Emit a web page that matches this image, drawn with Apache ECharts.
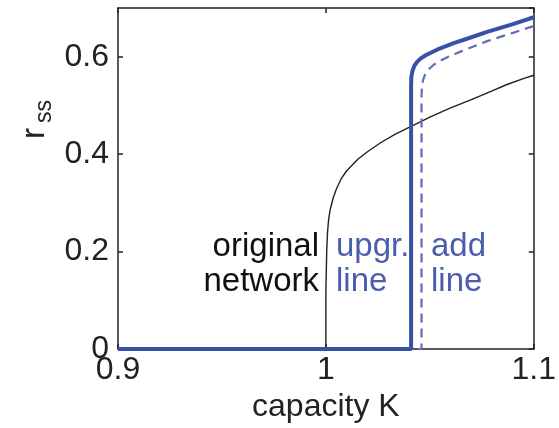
<!DOCTYPE html>
<html>
<head>
<meta charset="utf-8">
<script src="https://cdn.jsdelivr.net/npm/echarts@6/dist/echarts.min.js"></script>
<style>
  html, body { margin: 0; padding: 0; background: #fff; }
  #chart { width: 559px; height: 428px; }
</style>
</head>
<body>
<div id="chart"></div>
<script>
// Steady-state order parameter r_ss versus transmission capacity K
var xTicks = [0.9, 1, 1.1];
var yTicks = [0, 0.2, 0.4, 0.6];

// original network: [K, r_ss]
var originalNetwork = [
  [0.9, 0], [1.0, 0], [1.0, 0.12], [1.0004, 0.2], [1.0008, 0.24], [1.0013, 0.265],
  [1.002, 0.285], [1.0035, 0.31], [1.005, 0.328], [1.0074, 0.35], [1.01, 0.366],
  [1.0155, 0.39], [1.02, 0.405], [1.0265, 0.424], [1.033, 0.44], [1.04, 0.455],
  [1.0457, 0.467], [1.05, 0.476], [1.06, 0.495], [1.07, 0.512], [1.08, 0.53],
  [1.0871, 0.543], [1.095, 0.555], [1.1, 0.562]
];

// upgraded line
var upgradedLine = [
  [0.9, 0], [1.041, 0], [1.041, 0.54], [1.0411, 0.558], [1.0416, 0.57],
  [1.0425, 0.581], [1.0438, 0.589], [1.0455, 0.596], [1.048, 0.603],
  [1.0537, 0.615], [1.0615, 0.628], [1.07, 0.64], [1.0776, 0.651],
  [1.09, 0.667], [1.1, 0.681]
];

// additional line
var addedLine = [
  [0.9, 0], [1.046, 0], [1.046, 0.52], [1.0462, 0.54], [1.0468, 0.553],
  [1.0478, 0.564], [1.0492, 0.573], [1.052, 0.584], [1.0569, 0.596],
  [1.065, 0.611], [1.0776, 0.632], [1.09, 0.649], [1.1, 0.663]
];

var FONT = 'Liberation Sans';
var BLUE = '#3a4fa6';
var BLUE_TEXT = '#4b5dad';

var chart = echarts.init(document.getElementById('chart'), null, { renderer: 'canvas' });

function fmtX(v) {
  for (var i = 0; i < xTicks.length; i++) {
    if (Math.abs(v - xTicks[i]) < 1e-9) return String(xTicks[i]);
  }
  return '';
}
function fmtY(v) {
  for (var i = 0; i < yTicks.length; i++) {
    if (Math.abs(v - yTicks[i]) < 1e-9) return String(yTicks[i]);
  }
  return '';
}

var axisLineStyle = { show: true, onZero: false, lineStyle: { color: '#222', width: 1.5 } };
var tickStyle = { show: true, inside: true, length: 5, lineStyle: { color: '#222', width: 1.5 } };

chart.setOption({
  animation: false,
  backgroundColor: '#fff',
  grid: { left: 118, right: 22, top: 8, bottom: 71, containLabel: false },
  xAxis: [{
    type: 'value', min: 0.9, max: 1.1, interval: 0.1,
    axisLine: axisLineStyle, axisTick: tickStyle, splitLine: { show: false },
    axisLabel: { formatter: fmtX, color: '#222', fontFamily: FONT, fontSize: 32, margin: 5 },
    name: 'capacity K', nameLocation: 'middle', nameGap: 34,
    nameTextStyle: { color: '#222', fontFamily: FONT, fontSize: 32 }
  }, {
    type: 'value', position: 'top', min: 0.9, max: 1.1, interval: 0.1,
    axisLine: axisLineStyle, axisTick: tickStyle, splitLine: { show: false },
    axisLabel: { show: false }
  }],
  yAxis: [{
    type: 'value', min: 0, max: 0.7, interval: 0.2,
    axisLine: axisLineStyle, axisTick: tickStyle, splitLine: { show: false },
    axisLabel: { formatter: fmtY, color: '#222', fontFamily: FONT, fontSize: 32, margin: 9, showMaxLabel: false }
  }, {
    type: 'value', position: 'right', min: 0, max: 0.7, interval: 0.2,
    axisLine: axisLineStyle, axisTick: tickStyle, splitLine: { show: false },
    axisLabel: { show: false }
  }],
  series: [{
    name: 'original network', type: 'line', data: originalNetwork,
    showSymbol: false, smooth: false,
    lineStyle: { color: '#222', width: 1.4 }, z: 3
  }, {
    name: 'add line', type: 'line', data: addedLine,
    showSymbol: false, smooth: false,
    lineStyle: { color: '#5e6fb8', width: 2.2, type: [9, 6] }, z: 4
  }, {
    name: 'upgr. line', type: 'line', data: upgradedLine,
    showSymbol: false, smooth: false,
    lineStyle: { color: BLUE, width: 4 }, z: 5
  }],
  graphic: [{
    type: 'text', left: 18, top: 128, rotation: Math.PI / 2,
    style: { text: 'r', font: '33px "Liberation Sans"', fill: '#222' }
  }, {
    type: 'text', left: 33, top: 100, rotation: Math.PI / 2,
    style: { text: 'ss', font: '23px "Liberation Sans"', fill: '#222' }
  }, {
    type: 'text', x: 319, y: 229,
    style: { text: 'original\nnetwork', font: '33px "Liberation Sans"', fill: '#111', align: 'right', verticalAlign: 'top', lineHeight: 35 }
  }, {
    type: 'text', x: 336, y: 229,
    style: { text: 'upgr.\nline', font: '33px "Liberation Sans"', fill: BLUE_TEXT, verticalAlign: 'top', lineHeight: 35 }
  }, {
    type: 'text', x: 431, y: 229,
    style: { text: 'add\nline', font: '33px "Liberation Sans"', fill: BLUE_TEXT, verticalAlign: 'top', lineHeight: 35 }
  }]
});
</script>
</body>
</html>
